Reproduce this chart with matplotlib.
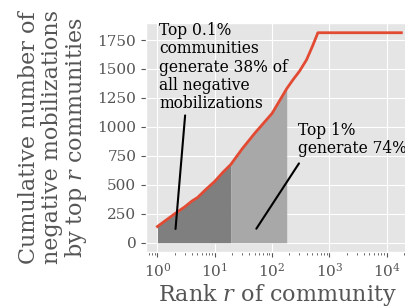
import numpy as np
import matplotlib
matplotlib.use('Agg')
import matplotlib.pyplot as plt

plt.style.use('ggplot')
plt.rcParams['font.family'] = 'DejaVu Serif'
plt.rcParams['mathtext.fontset'] = 'dejavuserif'

# cumulative negative mobilizations by rank
rank = [1, 2, 3, 4, 5, 7, 10, 14, 19, 30, 50, 100, 180, 230, 300, 400, 500, 630, 18000]
cum = [140, 250, 310, 360, 390, 460, 530, 610, 675, 810, 946, 1117, 1330, 1405, 1480, 1580, 1690, 1813, 1813]
top01 = 19
top1 = 180

rank = np.array(rank)
cum = np.array(cum)

fig = plt.figure(figsize=(4.06, 3.07), dpi=100)
ax = fig.add_axes([146/406, 55/307, 262/406, 229/307])

ax.plot(rank, cum, color='#E24A33', lw=2, zorder=3)

# shaded areas under curve
m1 = rank <= top01
ax.fill_between(rank[m1], 0, cum[m1], color='#7f7f7f', lw=0, zorder=2)
r2 = np.concatenate([[top01], rank[(rank > top01) & (rank < top1)], [top1]])
c2 = np.interp(np.log(r2), np.log(rank), cum)
ax.fill_between(r2, 0, c2, color='#a8a8a8', lw=0, zorder=2)

ax.set_xscale('log')
ax.set_xlim(0.632, 23500)
ax.set_ylim(-80, 1897)
ax.set_yticks([0, 250, 500, 750, 1000, 1250, 1500, 1750])
ax.tick_params(labelsize=11, colors='#555555')
ax.tick_params(axis='both', which='both', color='#555555')

ax.set_xlabel('Rank $r$ of community', fontsize=16, color='#555555', labelpad=2)
ax.set_ylabel('Cumulative number of\nnegative mobilizations\nby top $r$ communities',
              fontsize=16, color='#555555', labelpad=6, linespacing=1.02)

ax.text(1.08, 1905, 'Top 0.1%\ncommunities\ngenerate 38% of\nall negative\nmobilizations',
        fontsize=11.2, color='black', va='top', ha='left', linespacing=1.1, zorder=4)
ax.annotate('', xy=(2.05, 95), xytext=(3.07, 1123),
            arrowprops=dict(arrowstyle='-', color='black', lw=1.5), zorder=4)

ax.text(280, 1045, 'Top 1%\ngenerate 74%', fontsize=11.2, color='black',
        va='top', ha='left', linespacing=1.1, zorder=4)
ax.annotate('', xy=(50, 101), xytext=(313, 705),
            arrowprops=dict(arrowstyle='-', color='black', lw=1.5), zorder=4)

fig.savefig('out.png', dpi=100)
